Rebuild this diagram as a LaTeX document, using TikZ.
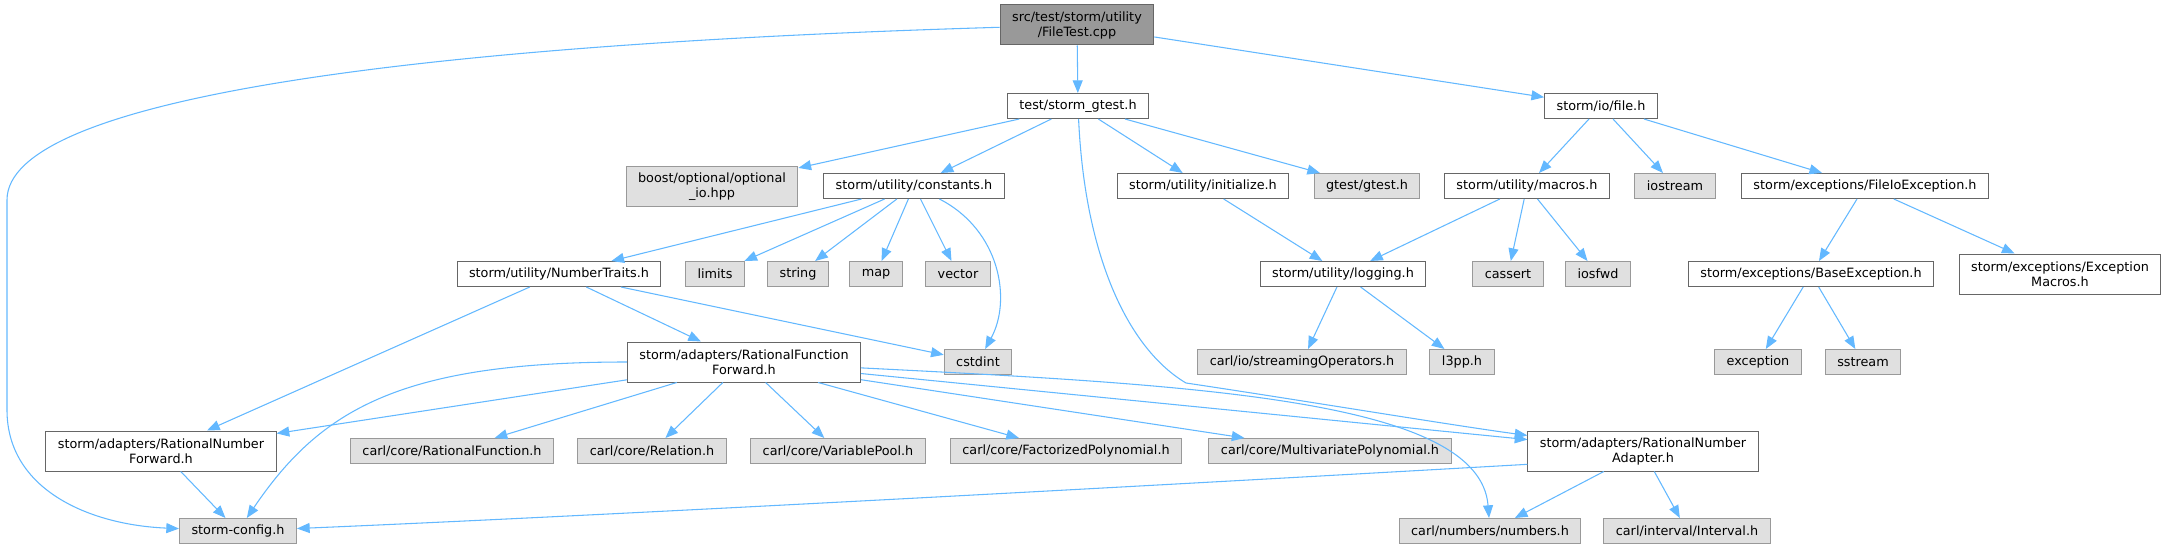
\documentclass[tikz,border=0pt]{standalone}
\usepackage{fontspec}
\usepackage{xcolor}
\usetikzlibrary{arrows.meta,positioning}
\newfontfamily\dejavu{DejaVu Sans}
\definecolor{edgeblue}{HTML}{63B8FF}
\definecolor{boxline}{HTML}{666666}
\definecolor{sysline}{HTML}{999999}
\definecolor{sysfill}{HTML}{E0E0E0}
\definecolor{srcfill}{HTML}{999999}

\begin{document}
\begin{tikzpicture}[x=0.75pt, y=-0.75pt,
  hdr/.style={draw=boxline, fill=white, align=center, inner xsep=9pt,
              inner ysep=2pt, minimum height=18.75pt, line width=0.75pt,
              font=\dejavu\fontsize{9.6}{11.25}\selectfont},
  sys/.style={hdr, draw=sysline, fill=sysfill},
  src/.style={hdr, fill=srcfill},
  dbl/.style={minimum height=30pt},
  inc/.style={-{Triangle[length=9.5pt, width=7.5pt]}, draw=edgeblue, line width=0.8pt}]
\useasboundingbox (0,0) rectangle (2167,549);
\node[src, dbl] (filetest) at (1077,25) {src/test/storm/utility\\/FileTest.cpp};
\node[hdr] (stormgtest) at (1078,106) {test/storm\_gtest.h};
\node[hdr] (iofile) at (1601,106) {storm/io/file.h};
\node[sys, dbl] (boostopt) at (712,187) {boost/optional/optional\\\_io.hpp};
\node[hdr] (constants) at (914,186) {storm/utility/constants.h};
\node[hdr] (initialize) at (1203,186) {storm/utility/initialize.h};
\node[sys] (gtest) at (1367,186) {gtest/gtest.h};
\node[hdr] (macros) at (1527,186) {storm/utility/macros.h};
\node[sys] (iostream) at (1675,186) {iostream};
\node[hdr] (fileioexc) at (1865,186) {storm/exceptions/FileIoException.h};
\node[hdr] (numtraits) at (559,274) {storm/utility/NumberTraits.h};
\node[sys] (limits) at (715,274) {limits};
\node[sys] (string) at (798,274) {string};
\node[sys] (map) at (876,274) {map};
\node[sys] (vector) at (958,274) {vector};
\node[hdr] (logging) at (1343,274) {storm/utility/logging.h};
\node[sys] (cassert) at (1508,274) {cassert};
\node[sys] (iosfwd) at (1598,274) {iosfwd};
\node[hdr] (baseexc) at (1811,274) {storm/exceptions/BaseException.h};
\node[hdr, dbl] (excmacros) at (2060,274) {storm/exceptions/Exception\\Macros.h};
\node[hdr, dbl] (ratfunfwd) at (744,362) {storm/adapters/RationalFunction\\Forward.h};
\node[sys] (cstdint) at (978,362) {cstdint};
\node[sys] (streamops) at (1302,362) {carl/io/streamingOperators.h};
\node[sys] (lthreepp) at (1462,362) {l3pp.h};
\node[sys] (exception) at (1758,362) {exception};
\node[sys] (sstream) at (1863,362) {sstream};
\node[hdr, dbl] (ratnumfwd) at (161,451) {storm/adapters/RationalNumber\\Forward.h};
\node[sys] (carlratfun) at (452,451) {carl/core/RationalFunction.h};
\node[sys] (relation) at (652,451) {carl/core/Relation.h};
\node[sys] (varpool) at (838,451) {carl/core/VariablePool.h};
\node[sys] (factpoly) at (1066,451) {carl/core/FactorizedPolynomial.h};
\node[sys] (multipoly) at (1330,451) {carl/core/MultivariatePolynomial.h};
\node[hdr, dbl] (ratnumadapter) at (1643,451) {storm/adapters/RationalNumber\\Adapter.h};
\node[sys] (stormconfig) at (238,531) {storm-config.h};
\node[sys] (numbers) at (1490,531) {carl/numbers/numbers.h};
\node[sys] (interval) at (1687,531) {carl/interval/Interval.h};
\draw[inc] (filetest) .. controls (400,45) and (7,100) .. (7,200) -- (7,410)
  .. controls (7,490) and (90,525) .. (stormconfig);
\draw[inc] (filetest) -- (stormgtest);
\draw[inc] (filetest) -- (iofile);
\draw[inc] (stormgtest) -- (boostopt);
\draw[inc] (stormgtest) -- (constants);
\draw[inc] (stormgtest) -- (initialize);
\draw[inc] (stormgtest) -- (gtest);
\draw[inc] (stormgtest) .. controls (1085,260) and (1130,350) .. (1186,383)
  .. controls (1300,400) and (1450,425) .. (ratnumadapter);
\draw[inc] (iofile) -- (macros);
\draw[inc] (iofile) -- (iostream);
\draw[inc] (iofile) -- (fileioexc);
\draw[inc] (constants) -- (numtraits);
\draw[inc] (constants) -- (limits);
\draw[inc] (constants) -- (string);
\draw[inc] (constants) -- (map);
\draw[inc] (constants) -- (vector);
\draw[inc] (constants) .. controls (1000,230) and (1012,300) .. (cstdint);
\draw[inc] (initialize) -- (logging);
\draw[inc] (macros) -- (logging);
\draw[inc] (macros) -- (cassert);
\draw[inc] (macros) -- (iosfwd);
\draw[inc] (fileioexc) -- (baseexc);
\draw[inc] (fileioexc) -- (excmacros);
\draw[inc] (numtraits) -- (ratnumfwd);
\draw[inc] (numtraits) -- (ratfunfwd);
\draw[inc] (numtraits) -- (cstdint);
\draw[inc] (logging) -- (streamops);
\draw[inc] (logging) -- (lthreepp);
\draw[inc] (baseexc) -- (exception);
\draw[inc] (baseexc) -- (sstream);
\draw[inc] (ratfunfwd) .. controls (400,362) and (320,410) .. (stormconfig);
\draw[inc] (ratfunfwd) -- (ratnumfwd);
\draw[inc] (ratfunfwd) -- (carlratfun);
\draw[inc] (ratfunfwd) -- (relation);
\draw[inc] (ratfunfwd) -- (varpool);
\draw[inc] (ratfunfwd) -- (factpoly);
\draw[inc] (ratfunfwd) -- (multipoly);
\draw[inc] (ratfunfwd) -- (ratnumadapter);
\draw[inc] (ratfunfwd) .. controls (1200,385) and (1480,400) .. (numbers);
\draw[inc] (ratnumfwd) -- (stormconfig);
\draw[inc] ([yshift=-10pt]ratnumadapter.west) .. controls (900,500) and (500,520) .. (stormconfig);
\draw[inc] (ratnumadapter) -- (numbers);
\draw[inc] (ratnumadapter) -- (interval);
\end{tikzpicture}
\end{document}
